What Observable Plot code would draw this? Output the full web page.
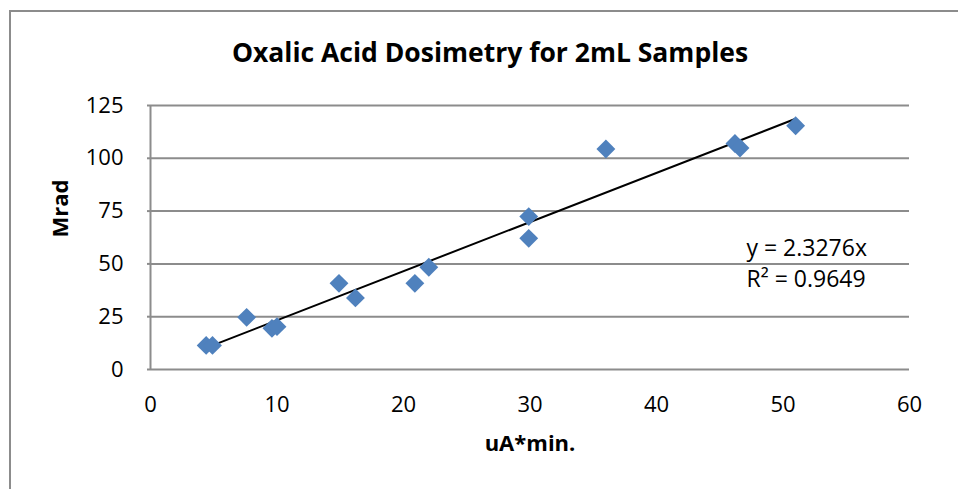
<!DOCTYPE html>
<html><head><meta charset="utf-8">
<script src="https://cdn.jsdelivr.net/npm/d3@7"></script>
<script src="https://cdn.jsdelivr.net/npm/@observablehq/plot@0.6"></script>
<style>
body{margin:0;background:#fff;overflow:hidden}
#wrap{position:relative;width:958px;height:489px;overflow:hidden}
#frame{position:absolute;left:9px;top:10px;width:1000px;height:1000px;border-left:2px solid #8c8c8c;border-top:2px solid #8c8c8c}
#chart{position:absolute;left:0;top:0}
</style></head><body>
<div id="wrap"><div id="frame"></div><div id="chart"></div></div>
<script>
const charge = [4.4, 4.9, 7.6, 9.6, 10.0, 14.9, 16.2, 20.9, 22.0, 29.9, 29.9, 36.0, 46.2, 46.6, 51.0];
const dose   = [11.4, 11.4, 24.7, 19.5, 20.3, 40.8, 33.9, 40.8, 48.4, 72.4, 62.1, 104.4, 107.0, 104.9, 115.4];
const xTicks = [0, 10, 20, 30, 40, 50, 60];
const yTicks = [0, 25, 50, 75, 100, 125];
const slope = 2.3276;
const r2 = "0.9649";
const title = "Oxalic Acid Dosimetry for 2mL Samples";
const xLabel = "uA*min.";
const yLabel = "Mrad";

const points = charge.map((x, i) => ({x, y: dose[i]}));
const xMin = d3.min(charge), xMax = d3.max(charge);
const trend = [xMin, xMax].map(x => ({x, y: slope * x}));

const grey = "#8c8c8c";
const chart = Plot.plot({
  width: 958, height: 489,
  marginLeft: 150, marginRight: 49, marginTop: 105, marginBottom: 120,
  style: {fontFamily: "'Open Sans', sans-serif", background: "transparent", color: "#000"},
  x: {domain: [0, 60]},
  y: {domain: [0, 125]},
  marks: [
    Plot.gridY(yTicks, {stroke: grey, strokeOpacity: 1, strokeWidth: 2}),
    Plot.ruleX([0], {stroke: grey, strokeWidth: 2}),
    Plot.axisY(yTicks, {tickSize: 3, tickPadding: 24, fontSize: 22, stroke: grey, strokeWidth: 2, label: null}),
    Plot.axisX(xTicks, {tickSize: 0, tickPadding: 27, fontSize: 22, label: null}),
    Plot.line(trend, {x: "x", y: "y", stroke: "#000", strokeWidth: 2}),
    Plot.dot(points, {x: "x", y: "y", symbol: "diamond2", fill: "#4f81bd", stroke: "none", r: 8.5}),
    Plot.text([`y = ${slope}x`], {frameAnchor: "top-left", lineAnchor: "middle", dx: 596, dy: 143, textAnchor: "start", fontSize: 23}),
    Plot.text([`R² = ${r2}`], {frameAnchor: "top-left", lineAnchor: "middle", dx: 596, dy: 174, textAnchor: "start", fontSize: 23}),
    Plot.text([title], {frameAnchor: "top", lineAnchor: "middle", dx: -40, dy: -52, fontSize: 26.5, fontWeight: "bold"}),
    Plot.text([yLabel], {frameAnchor: "left", lineAnchor: "middle", dx: -90, rotate: -90, fontSize: 22, fontWeight: "bold"}),
    Plot.text([xLabel], {frameAnchor: "bottom", lineAnchor: "middle", dy: 74, fontSize: 22, fontWeight: "bold"})
  ]
});
document.getElementById("chart").appendChild(chart);
</script>
</body></html>
